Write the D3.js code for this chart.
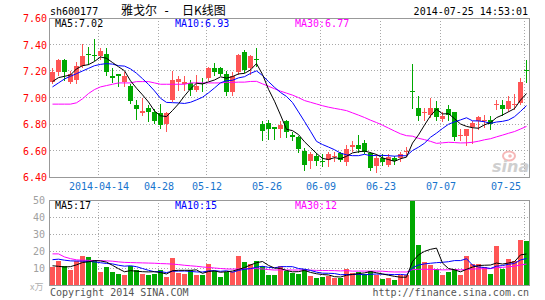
<!DOCTYPE html>
<html>
<head>
<meta charset="utf-8">
<script src="https://cdn.jsdelivr.net/npm/d3@7"></script>
<style>
  body { margin: 0; background: #fff; }
  svg { display: block; }
  text { font-family: "DejaVu Sans Mono", monospace; }
</style>
</head>
<body>
<div id="wrapper"></div>
<script>
// daily candles, 2014-04-01 .. 2014-07-25
const opens = [7.12,7.19,7.28,7.12,7.13,7.24,7.33,7.32,7.31,7.33,
  7.16,7.18,7.12,7.09,6.94,6.88,6.92,6.89,6.88,6.80,
  6.98,7.12,7.10,7.11,7.06,7.11,7.15,7.22,7.22,7.18,
  7.04,7.19,7.34,7.22,7.29,6.80,6.81,6.78,6.76,6.82,
  6.72,6.70,6.60,6.52,6.56,6.52,6.53,6.55,6.58,6.51,
  6.63,6.64,6.66,6.58,6.48,6.54,6.49,6.54,6.54,6.59,
  7.05,6.92,6.88,6.87,6.92,6.84,6.91,6.89,6.71,6.71,
  6.78,6.82,6.82,6.83,6.94,6.94,6.91,6.94,6.96,7.21];
const closes = [7.19,7.28,7.19,7.18,7.24,7.31,7.32,7.31,7.35,7.19,
  7.15,7.16,7.16,6.97,6.91,6.90,6.89,6.82,6.79,6.88,
  7.13,7.14,7.12,7.06,7.09,7.10,7.22,7.19,7.18,7.04,
  7.16,7.32,7.21,7.31,7.28,6.75,6.76,6.76,6.79,6.74,
  6.70,6.61,6.49,6.57,6.52,6.51,6.57,6.56,6.53,6.61,
  6.64,6.61,6.59,6.47,6.54,6.51,6.55,6.52,6.57,6.60,
  7.04,6.86,6.89,6.92,6.85,6.86,6.87,6.70,6.72,6.76,
  6.81,6.85,6.83,6.80,6.95,6.91,6.97,6.95,7.12,7.20];
const highs = [7.22,7.29,7.29,7.20,7.27,7.40,7.38,7.44,7.37,7.37,
  7.22,7.18,7.19,7.10,6.98,7.00,6.94,6.91,6.95,6.89,
  7.20,7.16,7.16,7.13,7.17,7.15,7.23,7.26,7.23,7.20,
  7.19,7.33,7.36,7.32,7.37,6.82,6.83,6.78,6.82,6.83,
  6.74,6.71,6.62,6.59,6.58,6.57,6.59,6.59,6.59,6.64,
  6.67,6.72,6.68,6.59,6.57,6.57,6.57,6.56,6.59,6.63,
  7.25,7.01,6.92,7.00,6.97,6.89,6.94,6.89,6.76,6.76,
  6.82,6.86,6.87,6.86,6.98,6.98,7.01,7.03,7.15,7.28];
const lows = [7.11,7.17,7.13,7.11,7.11,7.23,7.25,7.28,7.29,7.17,
  7.12,7.09,7.09,6.96,6.84,6.87,6.82,6.81,6.77,6.75,
  6.97,7.06,7.06,7.02,7.05,7.05,7.13,7.17,7.17,7.02,
  7.02,7.18,7.19,7.18,7.24,6.68,6.69,6.69,6.70,6.70,
  6.68,6.59,6.45,6.47,6.49,6.48,6.48,6.52,6.52,6.49,
  6.60,6.59,6.58,6.45,6.44,6.49,6.48,6.50,6.52,6.56,
  6.92,6.83,6.83,6.85,6.83,6.82,6.83,6.68,6.68,6.64,
  6.66,6.76,6.78,6.76,6.91,6.87,6.90,6.91,6.95,7.12];

const ma5 = [7.12,7.15,7.16,7.17,7.216,7.240,7.248,7.272,7.306,7.296,
  7.264,7.232,7.202,7.126,7.070,7.020,6.966,6.898,6.862,6.856,
  6.902,6.952,7.012,7.066,7.108,7.102,7.118,7.132,7.156,7.146,
  7.158,7.178,7.182,7.208,7.256,7.174,7.062,6.972,6.868,6.760,
  6.750,6.720,6.666,6.622,6.578,6.540,6.532,6.546,6.538,6.556,
  6.582,6.590,6.596,6.584,6.570,6.544,6.532,6.518,6.538,6.550,
  6.656,6.718,6.792,6.862,6.912,6.876,6.878,6.840,6.800,6.782,
  6.772,6.768,6.794,6.810,6.848,6.868,6.892,6.916,6.980,7.030];
const ma10 = [7.08,7.11,7.14,7.16,7.18,7.20,7.22,7.24,7.25,7.256,
  7.252,7.240,7.237,7.216,7.183,7.142,7.099,7.050,6.994,6.963,
  6.961,6.959,6.955,6.964,6.982,7.002,7.035,7.072,7.111,7.127,
  7.130,7.148,7.157,7.182,7.201,7.166,7.120,7.077,7.038,7.008,
  6.962,6.891,6.819,6.745,6.669,6.645,6.626,6.606,6.580,6.567,
  6.561,6.561,6.571,6.561,6.563,6.563,6.561,6.557,6.561,6.560,
  6.600,6.625,6.655,6.700,6.731,6.766,6.798,6.816,6.831,6.847,
  6.824,6.823,6.817,6.805,6.815,6.820,6.830,6.855,6.895,6.939];
const ma30 = [6.95,6.95,6.95,6.95,6.96,6.99,7.03,7.06,7.08,7.09,
  7.10,7.11,7.11,7.11,7.12,7.12,7.12,7.11,7.10,7.10,
  7.10,7.10,7.10,7.11,7.11,7.11,7.11,7.11,7.11,7.115,
  7.114,7.116,7.116,7.121,7.122,7.103,7.085,7.066,7.048,7.033,
  7.018,6.999,6.977,6.964,6.951,6.938,6.927,6.918,6.910,6.901,
  6.884,6.867,6.849,6.829,6.811,6.791,6.769,6.747,6.726,6.712,
  6.708,6.692,6.682,6.669,6.654,6.658,6.662,6.660,6.657,6.658,
  6.662,6.670,6.681,6.689,6.703,6.716,6.730,6.743,6.762,6.782];

// volume, in 10k lots
const volumes = [10.5,14.3,11.3,8.9,14.3,17.3,16.5,14.9,7.9,10.7,
  7.9,6.5,5.9,11.3,8.9,6.5,5.9,6.5,8.9,4.6,
  16.1,7.1,6.5,8.9,5.9,5.9,12.5,8.3,4.8,7.7,
  7.7,17.3,13.7,12.5,14.3,11.3,5.9,5.9,11.3,8.3,
  7.3,6.5,9.5,5.4,4.4,4.9,5.4,4.4,4.4,9.5,
  7.3,7.9,6.5,8.3,5.9,3.8,4.4,3.0,5.9,5.9,
  50,23.8,13.3,11.9,9.5,5.9,7.9,9.5,5.9,16.9,
  12.5,12.5,10.3,6.5,22.8,9.5,15.5,14.3,26.4,25.6];
const volMa5 = [11.3,11.0,10.6,10.8,11.86,13.22,13.66,14.38,14.18,13.46,
  11.58,9.58,7.78,8.46,8.10,7.82,7.70,7.82,7.34,6.48,
  8.40,8.64,8.64,8.64,8.90,6.86,7.94,8.30,7.48,7.84,
  8.20,9.16,10.24,11.78,13.10,13.82,11.54,9.98,9.74,8.54,
  7.74,7.86,8.58,7.40,6.62,6.14,5.92,4.90,4.70,5.72,
  6.20,6.70,7.12,7.90,7.18,6.48,5.78,5.08,4.60,4.60,
  13.84,17.72,19.78,20.98,21.70,12.88,9.70,8.94,7.74,9.22,
  10.54,11.46,11.62,11.74,12.92,12.32,12.92,13.72,17.70,18.26];
const volMa10 = [14.9,15.2,14.6,14.2,14.1,14.0,13.9,13.6,13.1,12.66,
  12.40,11.62,11.08,11.32,10.78,9.70,8.64,7.80,7.90,7.29,
  8.11,8.17,8.23,7.99,7.69,7.63,8.29,8.47,8.06,8.37,
  7.53,8.55,9.27,9.63,10.47,11.01,10.35,10.11,10.76,10.82,
  10.78,9.70,9.28,8.57,7.58,6.94,6.89,6.74,6.05,6.17,
  6.17,6.31,6.01,6.30,6.45,6.34,6.24,6.10,6.25,5.89,
  10.16,11.75,12.43,12.79,13.15,13.36,13.71,14.36,14.36,15.46,
  11.71,10.58,10.28,9.74,11.07,11.43,12.19,12.67,14.72,15.59];
const volMa30 = [18.3,18.3,16.5,15.5,14.8,14.6,14.5,14.4,14.3,14.2,
  14.0,13.6,13.3,13.2,13.1,13.0,12.9,12.8,12.6,12.5,
  12.3,12.0,11.6,11.3,11.0,10.6,10.3,10.0,9.7,9.44,
  9.35,9.45,9.53,9.65,9.65,9.45,9.09,8.79,8.91,8.83,
  8.81,8.81,8.93,8.73,8.58,8.53,8.51,8.44,8.29,8.45,
  8.16,8.19,8.19,8.17,8.17,8.10,7.83,7.65,7.69,7.63,
  9.04,9.25,9.24,9.22,9.06,8.88,8.95,9.07,8.89,9.17,
  9.35,9.55,9.57,9.61,10.22,10.38,10.71,11.04,11.78,12.31];

const tickIndex = [8, 18, 26, 36, 45, 55, 65, 79];
const tickLabels = ["2014-04-14", "04-28", "05-12", "05-26", "06-09", "06-23", "07-07", "07-25"];
const priceTicks = [6.4, 6.6, 6.8, 7.0, 7.2, 7.4, 7.6];
const volumeTicks = [10, 20, 30, 40, 50];

const colors = {
  up: "#ff5555",
  down: "#00a800",
  ma5: "#000000",
  ma10: "#0000ff",
  ma30: "#ff00ff",
  frame: "#999999",
  grid: "#a8a8a8",
};

const dimensions = {
  width: 545,
  height: 300,
  left: 50,
  right: 530,
  price: { top: 18, bottom: 177 },
  volume: { top: 200, bottom: 285 },
};

const wrapper = d3
  .select("#wrapper")
  .append("svg")
  .attr("width", dimensions.width)
  .attr("height", dimensions.height);

const n = closes.length;
const xScale = d3.scaleLinear().domain([0, n]).range([dimensions.left, dimensions.right]);
const xMid = (i) => xScale(i) + 2.5;

const yScale = d3
  .scaleLinear()
  .domain([6.4, 7.6])
  .range([dimensions.price.bottom, dimensions.price.top]);

const vScale = d3
  .scaleLinear()
  .domain([0, 50])
  .range([dimensions.volume.bottom, dimensions.volume.top])
  .clamp(true);

const crisp = (v) => Math.floor(v) + 0.5;

// clip paths for the two panels
const defs = wrapper.append("defs");
defs.append("clipPath").attr("id", "clip-price")
  .append("rect")
  .attr("x", dimensions.left).attr("y", dimensions.price.top)
  .attr("width", dimensions.right - dimensions.left)
  .attr("height", dimensions.price.bottom - dimensions.price.top + 1);
defs.append("clipPath").attr("id", "clip-volume")
  .append("rect")
  .attr("x", dimensions.left).attr("y", dimensions.volume.top)
  .attr("width", dimensions.right - dimensions.left)
  .attr("height", dimensions.volume.bottom - dimensions.volume.top + 1);

function drawGrid(panel, yTicks, scale) {
  const g = wrapper.append("g")
    .attr("stroke", colors.grid)
    .attr("stroke-dasharray", "1,2")
    .attr("shape-rendering", "crispEdges");
  g.selectAll(".h")
    .data(yTicks)
    .join("line")
    .attr("x1", dimensions.left)
    .attr("x2", dimensions.right - 1)
    .attr("y1", (d) => crisp(scale(d)))
    .attr("y2", (d) => crisp(scale(d)));
  g.selectAll(".v")
    .data(tickIndex)
    .join("line")
    .attr("x1", (d) => crisp(xScale(d)))
    .attr("x2", (d) => crisp(xScale(d)))
    .attr("y1", panel.top)
    .attr("y2", panel.bottom);
}

drawGrid(dimensions.price, priceTicks.slice(1, -1), yScale);
drawGrid(dimensions.volume, volumeTicks.slice(0, -1), vScale);

// candles
const candles = wrapper.append("g")
  .attr("clip-path", "url(#clip-price)")
  .attr("shape-rendering", "crispEdges");

const indices = d3.range(n);
const colorOf = (i) => (closes[i] >= opens[i] ? colors.up : colors.down);

candles.selectAll(".wick")
  .data(indices)
  .join("line")
  .attr("x1", (i) => Math.floor(xMid(i)) + 0.5)
  .attr("x2", (i) => Math.floor(xMid(i)) + 0.5)
  .attr("y1", (i) => Math.round(yScale(highs[i])))
  .attr("y2", (i) => Math.round(yScale(lows[i])) + 1)
  .attr("stroke", colorOf);

candles.selectAll(".body")
  .data(indices)
  .join("rect")
  .attr("x", (i) => xScale(i))
  .attr("width", 5)
  .attr("y", (i) => Math.round(yScale(Math.max(opens[i], closes[i]))))
  .attr("height", (i) =>
    Math.max(1, Math.round(yScale(Math.min(opens[i], closes[i]))) -
      Math.round(yScale(Math.max(opens[i], closes[i])))))
  .attr("fill", colorOf);

// moving averages
function drawLine(values, scale, color, clip) {
  const lineGenerator = d3.line()
    .x((d, i) => xMid(i))
    .y((d) => scale(d));
  wrapper.append("path")
    .attr("clip-path", clip)
    .attr("d", lineGenerator(values))
    .attr("fill", "none")
    .attr("stroke", color)
    .attr("stroke-width", 1);
}

drawLine(ma30, yScale, colors.ma30, "url(#clip-price)");
drawLine(ma10, yScale, colors.ma10, "url(#clip-price)");
drawLine(ma5, yScale, colors.ma5, "url(#clip-price)");

// volume bars
wrapper.append("g")
  .attr("clip-path", "url(#clip-volume)")
  .attr("shape-rendering", "crispEdges")
  .selectAll("rect")
  .data(indices)
  .join("rect")
  .attr("x", (i) => xScale(i))
  .attr("width", 5)
  .attr("y", (i) => Math.round(vScale(volumes[i])))
  .attr("height", (i) => dimensions.volume.bottom - Math.round(vScale(volumes[i])))
  .attr("fill", colorOf);

drawLine(volMa30, vScale, colors.ma30, "url(#clip-volume)");
drawLine(volMa10, vScale, colors.ma10, "url(#clip-volume)");
drawLine(volMa5, vScale, colors.ma5, "url(#clip-volume)");

// panel frames
[dimensions.price, dimensions.volume].forEach((p) => {
  wrapper.append("rect")
    .attr("x", dimensions.left - 0.5)
    .attr("y", p.top + 0.5)
    .attr("width", dimensions.right - dimensions.left)
    .attr("height", p.bottom - p.top)
    .attr("fill", "none")
    .attr("stroke", colors.frame)
    .attr("shape-rendering", "crispEdges");
});

// axes
const yAxis = wrapper.append("g")
  .attr("transform", `translate(${dimensions.left},0.5)`)
  .call(d3.axisLeft(yScale).tickValues(priceTicks).tickFormat(d3.format(".2f")).tickSize(0).tickPadding(3));
yAxis.select(".domain").remove();
yAxis.selectAll("text")
  .attr("fill", "#ff0000")
  .style("font-family", "DejaVu Sans Mono")
  .style("font-size", "10px");

const vAxis = wrapper.append("g")
  .attr("transform", `translate(${dimensions.left},0.5)`)
  .call(d3.axisLeft(vScale).tickValues(volumeTicks).tickSize(0).tickPadding(5));
vAxis.select(".domain").remove();
vAxis.selectAll("text")
  .attr("fill", "#a0a0a0")
  .style("font-family", "DejaVu Sans Mono")
  .style("font-size", "10px");

const xAxis = wrapper.append("g")
  .attr("transform", `translate(0.5,${dimensions.price.bottom})`)
  .call(d3.axisBottom(xScale).tickValues(tickIndex).tickFormat((d, i) => tickLabels[i]).tickSize(0).tickPadding(6));
xAxis.select(".domain").remove();
xAxis.selectAll("text")
  .attr("fill", "#1874cd")
  .style("font-family", "DejaVu Sans Mono")
  .style("font-size", "10px");
xAxis.selectAll(".tick:last-of-type text")
  .attr("text-anchor", "end")
  .attr("x", -4);

// texts
const label = (x, y, txt, fill, opts = {}) =>
  wrapper.append("text")
    .attr("x", x)
    .attr("y", y)
    .attr("fill", fill)
    .attr("text-anchor", opts.anchor || "start")
    .style("font-size", (opts.size || 10) + "px")
    .style("font-family", opts.family || "DejaVu Sans Mono")
    .text(txt);

label(50, 15, "sh600177", "#000");
label(121, 15, "雅戈尔", "#000", { size: 12, family: "Noto Sans CJK SC" });
label(163, 15, "-", "#000", { size: 12 });
label(182, 15, "日K线图", "#000", { size: 12, family: "Noto Sans CJK SC" });
label(528, 15, "2014-07-25 14:53:01", "#000", { anchor: "end" });

label(55, 27, "MA5:7.02", colors.ma5);
label(175, 27, "MA10:6.93", colors.ma10);
label(295, 27, "MA30:6.77", colors.ma30);

label(55, 209, "MA5:17", colors.ma5);
label(175, 209, "MA10:15", colors.ma10);
label(295, 209, "MA30:12", colors.ma30);

label(30, 290, "x万", "#b0b0b0", { size: 9, family: "Noto Sans CJK SC" });
label(50, 296, "Copyright 2014 SINA.COM", "#555");
label(529, 296, "http://finance.sina.com.cn", "#555", { anchor: "end" });

// sina watermark
wrapper.append("ellipse")
  .attr("cx", 509).attr("cy", 156)
  .attr("rx", 6).attr("ry", 4.5)
  .attr("fill", "none")
  .attr("stroke", "#f6b8b8")
  .attr("stroke-width", 2);
wrapper.append("circle")
  .attr("cx", 510).attr("cy", 156).attr("r", 1.8)
  .attr("fill", "#f6b8b8");
label(492, 172, "sina", "#cfcfcf", { size: 16, family: "DejaVu Sans" })
  .style("font-style", "italic")
  .style("font-weight", "bold");
</script>
</body>
</html>
